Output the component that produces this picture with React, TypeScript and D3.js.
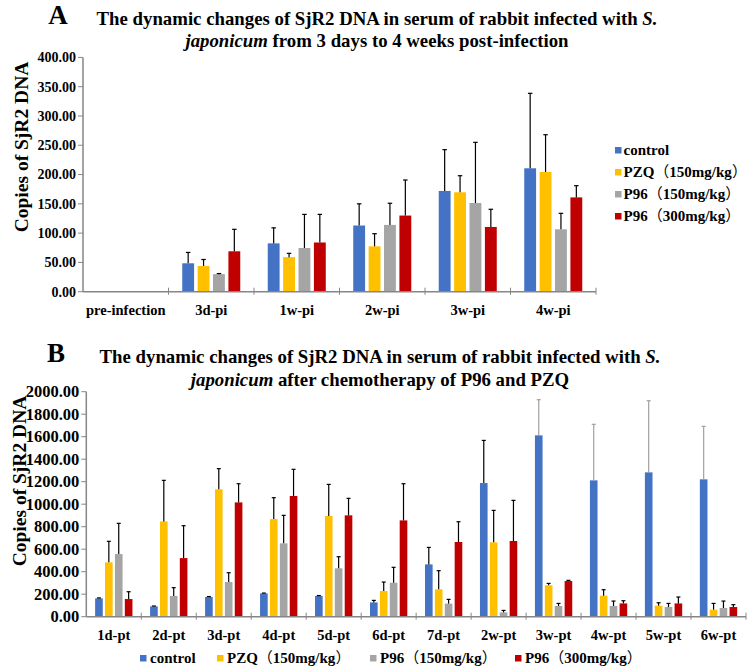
import React from "react";
import * as d3 from "d3";

const seriesNames = ["control", "PZQ（150mg/kg）", "P96（150mg/kg）", "P96（300mg/kg）"];
const seriesColors = ["#4472C4", "#FFC000", "#A5A5A5", "#C00000"];

// Panel A
const categoriesA = ["pre-infection", "3d-pi", "1w-pi", "2w-pi", "3w-pi", "4w-pi"];
const controlA = [0, 48.5, 82.5, 113, 172, 210.7];
const controlAErr = [0, 18.5, 26.5, 37, 70.5, 128];
const pzqA = [0, 44, 59, 77.5, 169.7, 204.4];
const pzqAErr = [0, 11, 6.5, 21.5, 28.3, 63.6];
const p96LowA = [0, 30, 74.6, 114, 151.4, 106.5];
const p96LowAErr = [0, 1, 57.4, 37, 103.6, 27.3];
const p96HighA = [0, 69, 84, 130, 110.5, 161];
const p96HighAErr = [0, 37.5, 48, 60.7, 30.2, 20];
const ticksA = [0, 50, 100, 150, 200, 250, 300, 350, 400];

// Panel B
const categoriesB = ["1d-pt", "2d-pt", "3d-pt", "4d-pt", "5d-pt", "6d-pt", "7d-pt", "2w-pt", "3w-pt", "4w-pt", "5w-pt", "6w-pt"];
const controlB = [163, 92, 175, 207, 184, 127, 465, 1188, 1612, 1212, 1283, 1221];
const controlBErr = [4, 3, 4, 3, 4, 18, 151, 379, 317, 498, 637, 471];
const pzqB = [483, 847, 1132, 868, 895, 228, 243, 661, 279, 187, 98, 62];
const pzqBErr = [187, 365, 184, 190, 281, 80, 166, 284, 17, 53, 26, 56];
const p96LowB = [557, 184, 308, 652, 430, 302, 116, 38, 95, 95, 86, 77];
const p96LowBErr = [273, 74, 83, 249, 103, 137, 38, 18, 23, 44, 32, 62];
const p96HighB = [157, 521, 1016, 1073, 901, 856, 664, 673, 317, 118, 118, 86];
const p96HighBErr = [65, 288, 166, 237, 151, 326, 180, 361, 6, 24, 57, 21];
const ticksB = [0, 200, 400, 600, 800, 1000, 1200, 1400, 1600, 1800, 2000];
// control error bars drawn in grey for late weeks
const controlBErrGrey = [false, false, false, false, false, false, false, false, true, true, true, true];

const FONT = "'Liberation Serif', 'Times New Roman', 'Noto Sans CJK SC', serif";
const CJK = "'Noto Sans CJK SC', sans-serif";

function LegendLabel({ text }: { text: string }) {
  const parts = text.split(/([（）])/).filter((s) => s.length > 0);
  return (
    <>
      {parts.map((s, i) =>
        s === "（" || s === "）" ? (
          <tspan key={i} fontFamily={CJK} fontWeight="normal">
            {s}
          </tspan>
        ) : (
          <tspan key={i}>{s}</tspan>
        )
      )}
    </>
  );
}

type PanelProps = {
  categories: string[];
  values: number[][];
  errors: number[][];
  errColors: string[][];
  ticks: number[];
  yMax: number;
  x0: number;
  x1: number;
  yTop: number;
  yBottom: number;
  capW: number;
  tickFont: number;
};

function Panel(p: PanelProps) {
  const x = d3.scaleBand<string>().domain(p.categories).range([p.x0, p.x1]).padding(0);
  const bw = x.bandwidth();
  const inner = d3
    .scaleBand<number>()
    .domain([0, 1, 2, 3])
    .range([(bw - bw * 0.72) / 2, (bw + bw * 0.72) / 2])
    .paddingInner(0.23)
    .paddingOuter(0.115);
  const y = d3.scaleLinear().domain([0, p.yMax]).range([p.yBottom, p.yTop]);
  const fmt = d3.format(".2f");
  const axisColor = "#868686";
  return (
    <g>
      {p.values.map((series, si) =>
        series.map((v, ci) => {
          const cx = (x(p.categories[ci]) as number) + (inner(si) as number);
          if (v <= 0) return null;
          return (
            <rect
              key={`b${si}-${ci}`}
              x={cx}
              y={y(v)}
              width={inner.bandwidth()}
              height={y(0) - y(v)}
              fill={seriesColors[si]}
            />
          );
        })
      )}
      {p.values.map((series, si) =>
        series.map((v, ci) => {
          const e = p.errors[si][ci];
          if (v <= 0 || e <= 0) return null;
          const mx = (x(p.categories[ci]) as number) + (inner(si) as number) + inner.bandwidth() / 2;
          const col = p.errColors[si][ci];
          return (
            <g key={`e${si}-${ci}`} stroke={col} strokeWidth={1.2}>
              <line x1={mx} x2={mx} y1={y(v)} y2={y(v + e)} />
              <line x1={mx - p.capW / 2} x2={mx + p.capW / 2} y1={y(v + e)} y2={y(v + e)} />
            </g>
          );
        })
      )}
      {/* y axis */}
      <line x1={p.x0} x2={p.x0} y1={y(p.yMax)} y2={y(0)} stroke={axisColor} strokeWidth={1.5} />
      {p.ticks.map((t) => (
        <g key={`t${t}`}>
          <line x1={p.x0 - 5} x2={p.x0} y1={y(t)} y2={y(t)} stroke={axisColor} strokeWidth={1} />
          <text
            x={p.x0 - 7}
            y={y(t)}
            dy="0.35em"
            textAnchor="end"
            fontFamily={FONT}
            fontWeight="bold"
            fontSize={p.tickFont}
            fill="#000"
          >
            {fmt(t)}
          </text>
        </g>
      ))}
      {/* x axis */}
      <line x1={p.x0} x2={p.x1} y1={y(0)} y2={y(0)} stroke={axisColor} strokeWidth={1.5} />
      {p.categories.map((c, i) => (
        <g key={`c${c}`}>
          {i > 0 && (
            <line
              x1={x(c) as number}
              x2={x(c) as number}
              y1={y(0) - 4}
              y2={y(0) + 3}
              stroke={axisColor}
              strokeWidth={1}
            />
          )}
          <text
            x={(x(c) as number) + bw / 2}
            y={y(0) + 23}
            textAnchor="middle"
            fontFamily={FONT}
            fontWeight="bold"
            fontSize={14.5}
          >
            {c}
          </text>
        </g>
      ))}
      <line x1={p.x1} x2={p.x1} y1={y(0) - 4} y2={y(0) + 3} stroke={axisColor} strokeWidth={1} />
    </g>
  );
}

export default function App() {
  const errA = [
    controlA.map(() => "#000"),
    pzqA.map(() => "#000"),
    p96LowA.map(() => "#000"),
    p96HighA.map(() => "#000"),
  ];
  const errB = [
    controlBErrGrey.map((g) => (g ? "#A0A0A0" : "#000")),
    pzqB.map(() => "#000"),
    p96LowB.map(() => "#000"),
    p96HighB.map(() => "#000"),
  ];
  return (
    <svg
      width={747}
      height={666}
      style={{ position: "absolute", left: 0, top: 0, background: "#fff" }}
      xmlns="http://www.w3.org/2000/svg"
    >
      <rect x={0} y={0} width={747} height={666} fill="#fff" />
      {/* Panel A titles */}
      <text x={58} y={24} textAnchor="middle" fontFamily={FONT} fontWeight="bold" fontSize={27}>
        A
      </text>
      <text x={377} y={25} textAnchor="middle" fontFamily={FONT} fontWeight="bold" fontSize={18.8}>
        The dynamic changes of SjR2 DNA in serum of rabbit infected with <tspan fontStyle="italic">S.</tspan>
      </text>
      <text x={377} y={47} textAnchor="middle" fontFamily={FONT} fontWeight="bold" fontSize={18.8}>
        <tspan fontStyle="italic">japonicum</tspan> from 3 days to 4 weeks post-infection
      </text>
      <text
        transform="translate(28,147) rotate(-90)"
        textAnchor="middle"
        fontFamily={FONT}
        fontWeight="bold"
        fontSize={19.5}
      >
        Copies of SjR2 DNA
      </text>
      <Panel
        categories={categoriesA}
        values={[controlA, pzqA, p96LowA, p96HighA]}
        errors={[controlAErr, pzqAErr, p96LowAErr, p96HighAErr]}
        errColors={errA}
        ticks={ticksA}
        yMax={400}
        x0={83}
        x1={596}
        yTop={57.4}
        yBottom={291.7}
        capW={4.5}
        tickFont={14}
      />
      {/* Legend A */}
      {seriesNames.map((n, i) => (
        <g key={`la${i}`} transform={`translate(615,${150 + i * 22})`}>
          <rect x={0} y={-3} width={6.5} height={6.5} fill={seriesColors[i]} />
          <text x={8.5} y={5} fontFamily={FONT} fontWeight="bold" fontSize={15}>
            <LegendLabel text={n} />
          </text>
        </g>
      ))}

      {/* Panel B titles */}
      <text x={56} y={362} textAnchor="middle" fontFamily={FONT} fontWeight="bold" fontSize={27}>
        B
      </text>
      <text x={380} y={363} textAnchor="middle" fontFamily={FONT} fontWeight="bold" fontSize={18.8}>
        The dynamic changes of SjR2 DNA in serum of rabbit infected with <tspan fontStyle="italic">S.</tspan>
      </text>
      <text x={380} y={386} textAnchor="middle" fontFamily={FONT} fontWeight="bold" fontSize={18.8}>
        <tspan fontStyle="italic">japonicum</tspan> after chemotherapy of P96 and PZQ
      </text>
      <text
        transform="translate(26,481) rotate(-90)"
        textAnchor="middle"
        fontFamily={FONT}
        fontWeight="bold"
        fontSize={19.5}
      >
        Copies of SjR2 DNA
      </text>
      <Panel
        categories={categoriesB}
        values={[controlB, pzqB, p96LowB, p96HighB]}
        errors={[controlBErr, pzqBErr, p96LowBErr, p96HighBErr]}
        errColors={errB}
        ticks={ticksB}
        yMax={2000}
        x0={86.3}
        x1={746}
        yTop={391.7}
        yBottom={616.7}
        capW={4}
        tickFont={16.5}
      />
      {/* Legend B */}
      {seriesNames.map((n, i) => {
        const lx = [140, 217, 370, 515][i];
        return (
          <g key={`lb${i}`} transform={`translate(${lx},658)`}>
            <rect x={0} y={-3} width={6.5} height={6.5} fill={seriesColors[i]} />
            <text x={10} y={5} fontFamily={FONT} fontWeight="bold" fontSize={15}>
              <LegendLabel text={n} />
            </text>
          </g>
        );
      })}
    </svg>
  );
}
